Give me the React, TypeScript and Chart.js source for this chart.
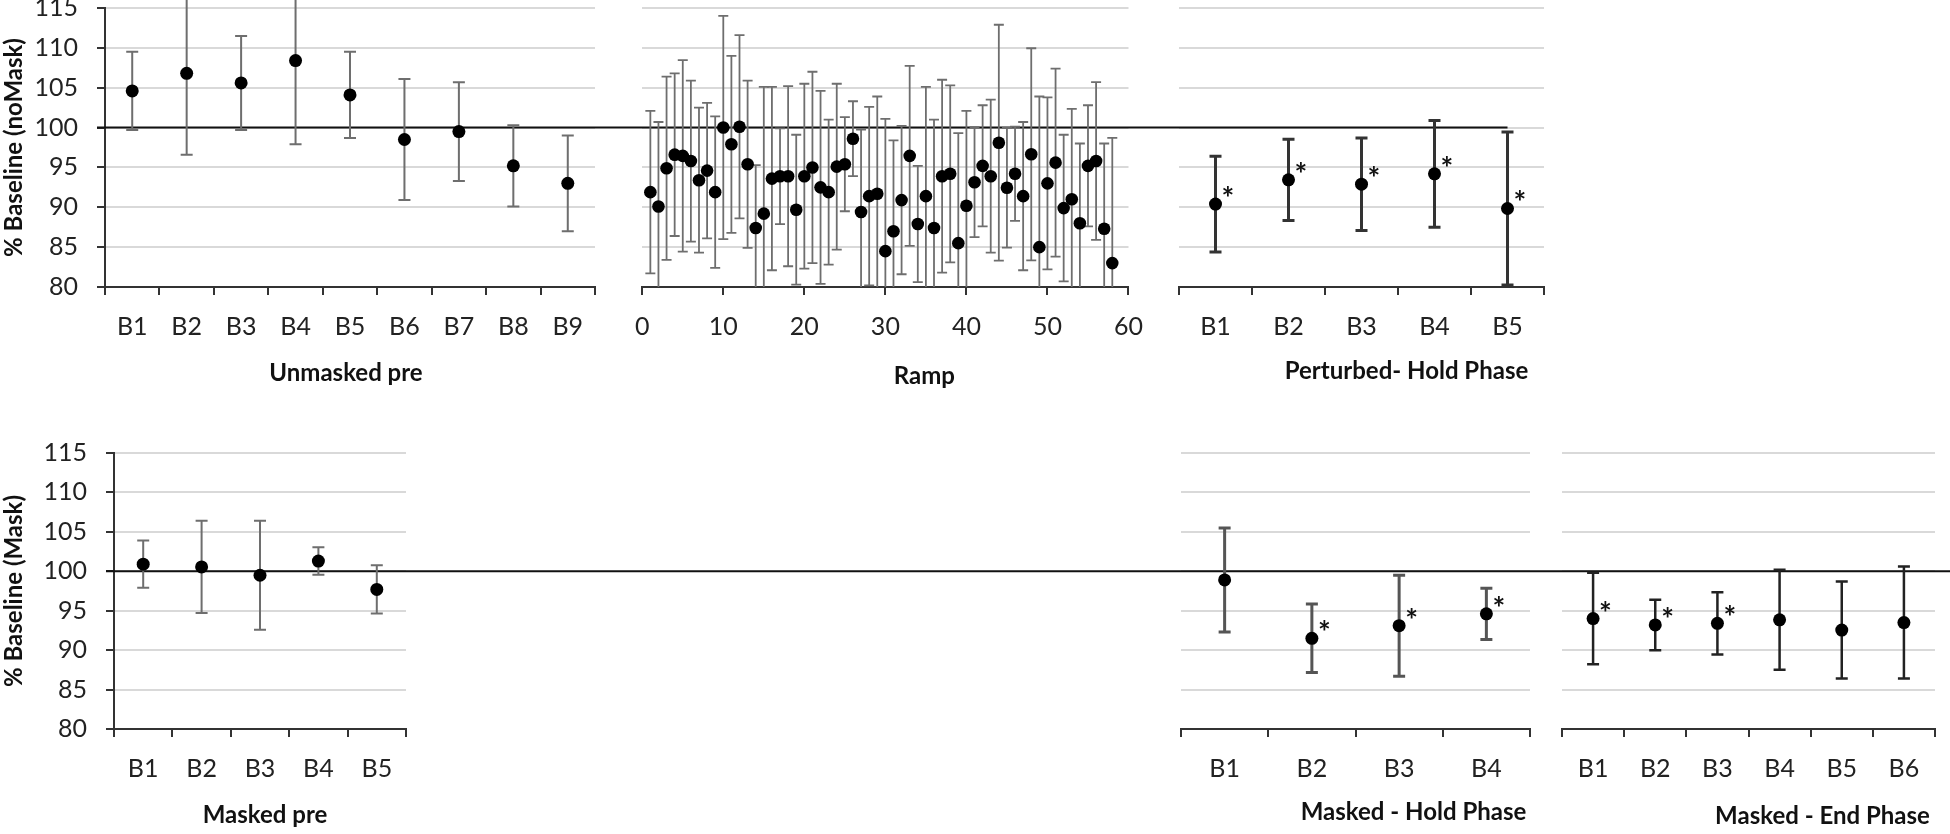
import React, { useEffect, useRef } from 'react';
import { Chart, registerables } from 'chart.js';

Chart.register(...registerables);

const FONT = 'Lato, "Open Sans", sans-serif';

// ---- top row: no mask ----
const unmaskedLabels = ['B1', 'B2', 'B3', 'B4', 'B5', 'B6', 'B7', 'B8', 'B9'];
const unmaskedMean = [104.6, 106.8, 105.6, 108.4, 104.1, 98.5, 99.5, 95.2, 93.0];
const unmaskedErr = [4.9, 10.2, 5.9, 10.5, 5.4, 7.6, 6.2, 5.1, 6.0];

const rampTrial = [
  1, 2, 3, 4, 5, 6, 7, 8, 9, 10, 11, 12, 13, 14, 15, 16, 17, 18, 19, 20,
  21, 22, 23, 24, 25, 26, 27, 28, 29, 30, 31, 32, 33, 34, 35, 36, 37, 38, 39, 40,
  41, 42, 43, 44, 45, 46, 47, 48, 49, 50, 51, 52, 53, 54, 55, 56, 57, 58,
];
const rampMean = [
  91.9, 90.1, 94.9, 96.6, 96.45, 95.8, 93.4, 94.6, 91.9, 100.0,
  97.9, 100.1, 95.4, 87.4, 89.2, 93.6, 93.9, 93.9, 89.7, 93.9,
  95.0, 92.5, 91.9, 95.1, 95.4, 98.6, 89.4, 91.4, 91.7, 84.5,
  87.0, 90.9, 96.45, 87.9, 91.4, 87.4, 93.9, 94.2, 85.5, 90.2,
  93.15, 95.2, 93.9, 98.1, 92.45, 94.2, 91.4, 96.65, 85.0, 93.0,
  95.6, 89.9, 91.0, 88.0, 95.2, 95.8, 87.3, 83.0,
];
const rampErr = [
  10.2, 10.6, 11.5, 10.2, 12.0, 10.1, 9.1, 8.5, 9.5, 14.0,
  11.1, 11.5, 10.5, 7.9, 15.9, 11.5, 6.0, 11.3, 9.4, 11.6,
  12.0, 12.1, 9.1, 10.4, 5.9, 4.7, 10.35, 11.2, 12.2, 16.6,
  11.4, 9.3, 11.3, 7.3, 13.7, 13.6, 12.1, 11.1, 13.8, 11.9,
  6.9, 7.6, 9.6, 14.8, 7.5, 5.9, 9.3, 13.3, 18.9, 10.8,
  11.8, 9.2, 11.35, 10.0, 7.6, 9.9, 10.7, 15.7,
];
const rampTicks = [0, 10, 20, 30, 40, 50, 60];

const perturbedLabels = ['B1', 'B2', 'B3', 'B4', 'B5'];
const perturbedMean = [90.4, 93.45, 92.9, 94.2, 89.85];
const perturbedErr = [6.0, 5.1, 5.8, 6.7, 9.6];
const perturbedSig = [true, true, true, true, true];

// ---- bottom row: mask ----
const maskedPreLabels = ['B1', 'B2', 'B3', 'B4', 'B5'];
const maskedPreMean = [100.9, 100.55, 99.5, 101.3, 97.7];
const maskedPreErr = [3.0, 5.85, 6.9, 1.75, 3.05];

const maskedHoldLabels = ['B1', 'B2', 'B3', 'B4'];
const maskedHoldMean = [98.9, 91.5, 93.1, 94.6];
const maskedHoldErr = [6.6, 4.35, 6.4, 3.25];
const maskedHoldSig = [false, true, true, true];

const maskedEndLabels = ['B1', 'B2', 'B3', 'B4', 'B5', 'B6'];
const maskedEndMean = [94.0, 93.2, 93.4, 93.85, 92.55, 93.5];
const maskedEndErr = [5.8, 3.2, 3.95, 6.35, 6.15, 7.1];
const maskedEndSig = [true, true, true, false, false, false];

const Y_MIN = 80;
const Y_MAX = 115;
const Y_STEP = 5;
const REF_VALUE = 100;

// shared vertical extent of each row, so the 100 line runs straight across
const TOP_ROW = { top: 8, bottom: 287 };
const BOTTOM_ROW = { top: 453, bottom: 729 };
// canvases start well above the plot so chart.js never pushes the plot down
const TOP_BOX = { top: -50, height: 470 };
const BOTTOM_BOX = { top: 390, height: 444 };

type Box = { left: number; top: number; width: number; height: number };
type Area = { left: number; top: number; right: number; bottom: number };

type PanelSpec = {
  box: Box;
  area: Area;
  kind: 'category' | 'ramp';
  labels?: string[];
  xs?: number[];
  means: number[];
  errs: number[];
  sig?: boolean[];
  yTitle?: string;
  title: string;
  titleDx: number;
  titleDy: number;
  barColor: string;
  barWidth: number;
  cap: number;
  radius: number;
  lineFrom: 'axis' | 'edge';
  lineTo: 'edge' | 'last';
};

const panels: PanelSpec[] = [
  {
    box: { left: 0, width: 618, ...TOP_BOX },
    area: { left: 105, right: 595, ...TOP_ROW },
    kind: 'category', labels: unmaskedLabels, means: unmaskedMean, errs: unmaskedErr,
    yTitle: '% Baseline (noMask)', title: 'Unmasked pre', titleDx: -4, titleDy: 86,
    barColor: '#6e6e6e', barWidth: 2, cap: 6, radius: 6.5, lineFrom: 'axis', lineTo: 'edge',
  },
  {
    box: { left: 618, width: 542, ...TOP_BOX },
    area: { left: 638, right: 1142, ...TOP_ROW },
    kind: 'ramp', xs: rampTrial, means: rampMean, errs: rampErr,
    title: 'Ramp', titleDx: 39, titleDy: 89,
    barColor: '#6e6e6e', barWidth: 1.8, cap: 5, radius: 6.3, lineFrom: 'edge', lineTo: 'edge',
  },
  {
    box: { left: 1160, width: 440, ...TOP_BOX },
    area: { left: 1179, right: 1544, ...TOP_ROW },
    kind: 'category', labels: perturbedLabels, means: perturbedMean, errs: perturbedErr, sig: perturbedSig,
    title: 'Perturbed- Hold Phase', titleDx: 45, titleDy: 84,
    barColor: '#333333', barWidth: 3, cap: 6, radius: 6.5, lineFrom: 'edge', lineTo: 'last',
  },
  {
    box: { left: 0, width: 660, ...BOTTOM_BOX },
    area: { left: 114, right: 406, ...BOTTOM_ROW },
    kind: 'category', labels: maskedPreLabels, means: maskedPreMean, errs: maskedPreErr,
    yTitle: '% Baseline (Mask)', title: 'Masked pre', titleDx: 5, titleDy: 86,
    barColor: '#6e6e6e', barWidth: 2, cap: 6, radius: 6.5, lineFrom: 'axis', lineTo: 'edge',
  },
  {
    box: { left: 660, width: 890, ...BOTTOM_BOX },
    area: { left: 1181, right: 1530, ...BOTTOM_ROW },
    kind: 'category', labels: maskedHoldLabels, means: maskedHoldMean, errs: maskedHoldErr, sig: maskedHoldSig,
    title: 'Masked - Hold Phase', titleDx: 58, titleDy: 83,
    barColor: '#555555', barWidth: 3, cap: 6, radius: 6.5, lineFrom: 'edge', lineTo: 'edge',
  },
  {
    box: { left: 1550, width: 400, ...BOTTOM_BOX },
    area: { left: 1562, right: 1935, ...BOTTOM_ROW },
    kind: 'category', labels: maskedEndLabels, means: maskedEndMean, errs: maskedEndErr, sig: maskedEndSig,
    title: 'Masked - End Phase', titleDx: 74, titleDy: 87,
    barColor: '#222222', barWidth: 2.5, cap: 6, radius: 6.5, lineFrom: 'edge', lineTo: 'edge',
  },
];

// reference line, error bars, asterisks and the panel title
const decorPlugin = {
  id: 'panelDecor',
  beforeDatasetsDraw(chart: any, _args: any, opts: any) {
    const { ctx, chartArea: a, scales } = chart;
    const y = scales.y;
    const meta = chart.getDatasetMeta(0);
    const ds = chart.data.datasets[0];

    const ry = y.getPixelForValue(REF_VALUE);
    const x0 = opts.lineFrom === 'axis' ? a.left - 8 : 0;
    let x1 = chart.width;
    if (opts.lineTo === 'last') x1 = meta.data[meta.data.length - 1].x;
    ctx.save();
    ctx.strokeStyle = '#111';
    ctx.lineWidth = 2;
    ctx.beginPath();
    ctx.moveTo(x0, ry);
    ctx.lineTo(x1, ry);
    ctx.stroke();

    ctx.beginPath();
    ctx.rect(a.left - 20, a.top - 14, a.right - a.left + 40, a.bottom - a.top + 14);
    ctx.clip();
    ctx.strokeStyle = opts.barColor;
    ctx.lineWidth = opts.barWidth;
    meta.data.forEach((pt: any, i: number) => {
      const d = ds.data[i];
      const v = typeof d === 'number' ? d : d.y;
      const e = ds.errors[i];
      const top = y.getPixelForValue(v + e);
      const bot = y.getPixelForValue(v - e);
      ctx.beginPath();
      ctx.moveTo(pt.x, top);
      ctx.lineTo(pt.x, bot);
      ctx.moveTo(pt.x - opts.cap, top);
      ctx.lineTo(pt.x + opts.cap, top);
      ctx.moveTo(pt.x - opts.cap, bot);
      ctx.lineTo(pt.x + opts.cap, bot);
      ctx.stroke();
    });
    ctx.restore();
  },
  afterDraw(chart: any, _args: any, opts: any) {
    const { ctx, chartArea: a } = chart;
    const meta = chart.getDatasetMeta(0);
    const ds = chart.data.datasets[0];
    ctx.save();
    ctx.fillStyle = '#111';
    if (ds.sig) {
      ctx.font = `bold 30px ${FONT}`;
      ctx.textAlign = 'left';
      ctx.textBaseline = 'alphabetic';
      meta.data.forEach((pt: any, i: number) => {
        if (ds.sig[i]) ctx.fillText('*', pt.x + 6, pt.y + 5);
      });
    }
    ctx.font = `bold 24px ${FONT}`;
    ctx.textAlign = 'center';
    ctx.textBaseline = 'middle';
    ctx.fillText(opts.title, (a.left + a.right) / 2 + opts.titleDx, a.bottom + opts.titleDy);
    ctx.restore();
  },
};

function buildConfig(spec: PanelSpec): any {
  const showY = !!spec.yTitle;
  const yW = showY ? spec.area.left - spec.box.left : 0;
  const xH = spec.box.top + spec.box.height - spec.area.bottom;
  const tickFont = { family: FONT, size: 25 };

  const xAxisCommon = {
    grid: { drawOnChartArea: false, drawTicks: true, tickLength: 8, color: '#333', lineWidth: 2 },
    border: { display: true, color: '#333', width: 2 },
    afterFit: (s: any) => { s.height = xH; },
  };

  const xScale = spec.kind === 'ramp'
    ? {
        type: 'linear', min: rampTicks[0], max: rampTicks[rampTicks.length - 1],
        afterBuildTicks: (s: any) => { s.ticks = rampTicks.map((v) => ({ value: v })); },
        ticks: { color: '#222', font: tickFont, padding: 17, maxRotation: 0 },
        ...xAxisCommon,
      }
    : {
        type: 'category', labels: spec.labels, offset: true,
        ticks: { color: '#222', font: tickFont, padding: 17, maxRotation: 0, autoSkip: false },
        ...xAxisCommon,
        grid: { ...xAxisCommon.grid, offset: true },
      };

  const data = spec.kind === 'ramp'
    ? spec.means.map((m, i) => ({ x: spec.xs![i], y: m }))
    : spec.means;

  return {
    type: spec.kind === 'ramp' ? 'scatter' : 'line',
    data: {
      datasets: [{
        data,
        errors: spec.errs,
        sig: spec.sig,
        showLine: false,
        pointRadius: spec.radius,
        pointHoverRadius: spec.radius,
        pointBackgroundColor: '#000',
        pointBorderWidth: 0,
      }],
    },
    options: {
      responsive: true,
      maintainAspectRatio: false,
      animation: false,
      layout: {
        padding: {
          left: spec.area.left - spec.box.left - yW,
          top: spec.area.top - spec.box.top,
          right: spec.box.left + spec.box.width - spec.area.right,
          bottom: 0,
        },
      },
      plugins: {
        legend: { display: false },
        tooltip: { enabled: false },
        panelDecor: {
          title: spec.title, titleDx: spec.titleDx, titleDy: spec.titleDy,
          barColor: spec.barColor, barWidth: spec.barWidth, cap: spec.cap,
          lineFrom: spec.lineFrom, lineTo: spec.lineTo,
        },
      },
      scales: {
        x: xScale,
        y: {
          type: 'linear', min: Y_MIN, max: Y_MAX,
          ticks: { stepSize: Y_STEP, display: showY, color: '#222', font: tickFont, padding: 19 },
          grid: { color: '#d9d9d9', lineWidth: 2, drawTicks: showY, tickLength: 8, tickColor: '#333' },
          border: { display: showY, color: '#333', width: 2 },
          title: {
            display: showY, text: spec.yTitle || '', color: '#111',
            font: { family: FONT, size: 24, weight: 'bold' }, padding: { top: 0, bottom: 0 },
          },
          afterFit: (s: any) => { s.width = yW; },
        },
      },
    },
    plugins: [decorPlugin],
  };
}

const Panel: React.FC<{ spec: PanelSpec }> = ({ spec }) => {
  const canvasRef = useRef<HTMLCanvasElement>(null);

  useEffect(() => {
    const ctx = canvasRef.current?.getContext('2d');
    if (!ctx) return;
    const chart = new Chart(ctx, buildConfig(spec));
    return () => chart.destroy();
  }, [spec]);

  const { left, top, width, height } = spec.box;
  return (
    <div style={{ position: 'absolute', left, top, width, height }}>
      <canvas ref={canvasRef}></canvas>
    </div>
  );
};

const App: React.FC = () => (
  <div style={{ position: 'fixed', left: 0, top: 0, width: 1950, height: 834, overflow: 'hidden', background: '#fff' }}>
    {panels.map((p, i) => <Panel key={i} spec={p} />)}
  </div>
);

export default App;
